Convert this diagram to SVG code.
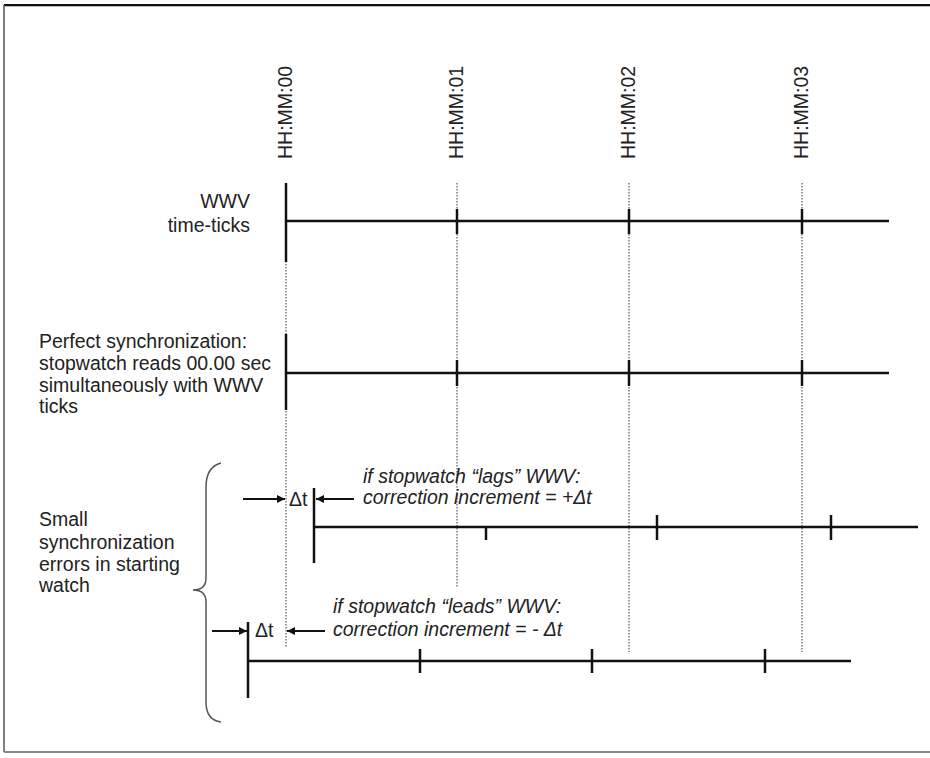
<svg xmlns="http://www.w3.org/2000/svg" width="930" height="758" viewBox="0 0 930 758">
<style>
text{font-family:"Liberation Sans",Arial,sans-serif;font-size:19.5px;fill:#222}
.it{font-style:italic}
.ax{stroke:#111;stroke-width:2.5;fill:none}
.tk{stroke:#111;stroke-width:2.5;fill:none}
.dot{stroke:#555;stroke-width:1.2;stroke-dasharray:1.5 1.5;fill:none}
.arr{stroke:#111;stroke-width:2;fill:none;marker-end:url(#ah)}
</style>
<defs>
<marker id="ah" viewBox="0 0 10 10" refX="10" refY="5" markerWidth="10" markerHeight="8" markerUnits="userSpaceOnUse" orient="auto">
<path d="M0,0 L10,5 L0,10 z" fill="#111"/>
</marker>
</defs>
<rect width="930" height="758" fill="#fff"/>
<g id="frame">
<line x1="4" y1="5" x2="930" y2="5" stroke="#111" stroke-width="2"/>
<line x1="4" y1="6.5" x2="930" y2="6.5" stroke="#bbb" stroke-width="1"/>
<line x1="4" y1="5" x2="4" y2="752" stroke="#555" stroke-width="1.5"/>
<line x1="4" y1="752" x2="930" y2="752" stroke="#888" stroke-width="2"/>
</g>
<g id="time-labels">
<text transform="translate(292,159) rotate(-90)">HH:MM:00</text>
<text transform="translate(463,159) rotate(-90)">HH:MM:01</text>
<text transform="translate(635,159) rotate(-90)">HH:MM:02</text>
<text transform="translate(808,159) rotate(-90)">HH:MM:03</text>
</g>
<g id="connectors">
<line class="dot" x1="286" y1="183" x2="286" y2="647"/>
<line class="dot" x1="457" y1="183" x2="457" y2="587"/>
<line class="dot" x1="629" y1="183" x2="629" y2="652"/>
<line class="dot" x1="802" y1="183" x2="802" y2="652"/>
<line class="arr" x1="243" y1="499" x2="285" y2="499"/>
<line class="arr" x1="354" y1="499" x2="316" y2="499"/>
<line class="arr" x1="212" y1="631" x2="247" y2="631"/>
<line class="arr" x1="325" y1="631" x2="287" y2="631"/>
</g>
<g id="wwv-line">
<text x="250" y="208" text-anchor="end">WWV</text>
<text x="250" y="232" text-anchor="end">time-ticks</text>
<line class="ax" x1="286" y1="221" x2="889" y2="221"/>
<line class="tk" x1="286" y1="183" x2="286" y2="262" stroke-width="3"/>
<line class="tk" x1="457" y1="209" x2="457" y2="234"/>
<line class="tk" x1="629" y1="209" x2="629" y2="234"/>
<line class="tk" x1="802" y1="209" x2="802" y2="234"/>
</g>
<g id="perfect-line">
<text x="39" y="348">Perfect synchronization:</text>
<text x="39" y="370">stopwatch reads 00.00 sec</text>
<text x="39" y="392">simultaneously with WWV</text>
<text x="39" y="413">ticks</text>
<line class="ax" x1="286" y1="373" x2="889" y2="373"/>
<line class="tk" x1="286" y1="334" x2="286" y2="410" stroke-width="3"/>
<line class="tk" x1="457" y1="360" x2="457" y2="386"/>
<line class="tk" x1="629" y1="360" x2="629" y2="386"/>
<line class="tk" x1="802" y1="360" x2="802" y2="386"/>
</g>
<g id="errors-label">
<text x="39" y="526">Small</text>
<text x="39" y="549">synchronization</text>
<text x="39" y="571">errors in starting</text>
<text x="39" y="592">watch</text>
<path d="M221,463 Q206,467 206,487 L206,578 Q206,590 193,590 Q206,590 206,602 L206,702 Q206,720 221,722" fill="none" stroke="#555" stroke-width="1.5"/>
</g>
<g id="lag-line">
<text x="289" y="506">Δt</text>
<text class="it" x="363" y="483">if stopwatch “lags” WWV:</text>
<text class="it" x="363" y="504">correction increment = +Δt</text>
<line class="ax" x1="314" y1="527" x2="918" y2="527"/>
<line class="tk" x1="314" y1="488" x2="314" y2="563" stroke-width="3"/>
<line class="tk" x1="486" y1="527" x2="486" y2="540"/>
<line class="tk" x1="657" y1="515" x2="657" y2="540"/>
<line class="tk" x1="831" y1="515" x2="831" y2="540"/>
</g>
<g id="lead-line">
<text x="255" y="637">Δt</text>
<text class="it" x="333" y="613">if stopwatch “leads” WWV:</text>
<text class="it" x="333" y="636">correction increment = - Δt</text>
<line class="ax" x1="248" y1="661" x2="851" y2="661"/>
<line class="tk" x1="248" y1="622" x2="248" y2="698" stroke-width="3"/>
<line class="tk" x1="420" y1="649" x2="420" y2="673"/>
<line class="tk" x1="592" y1="649" x2="592" y2="673"/>
<line class="tk" x1="765" y1="649" x2="765" y2="673"/>
</g>
</svg>
